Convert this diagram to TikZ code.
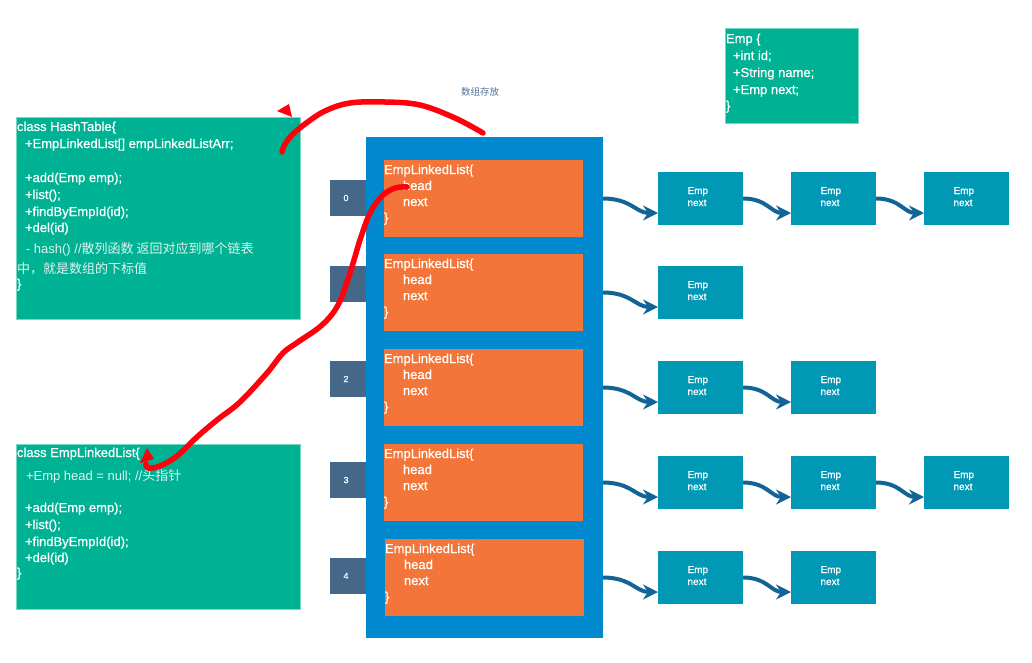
\documentclass[tikz,border=0pt]{standalone}
\usepackage{fontspec}
\setmainfont{Liberation Sans}
\newfontfamily\codefont{Liberation Sans}[FakeBold=0.6]
\newfontfamily\cjk{Noto Sans CJK SC}
\usetikzlibrary{arrows.meta}

\definecolor{clsgreen}{RGB}{0,178,148}
\definecolor{clsedge}{RGB}{120,215,195}
\definecolor{arrblue}{RGB}{0,137,207}
\definecolor{listorange}{RGB}{244,117,57}
\definecolor{idxslate}{RGB}{69,104,137}
\definecolor{empteal}{RGB}{0,152,181}
\definecolor{linkblue}{RGB}{18,100,150}
\definecolor{penred}{RGB}{255,0,12}
\definecolor{notegray}{RGB}{80,118,155}
\definecolor{softwhite}{RGB}{222,244,238}

\begin{document}
\begin{tikzpicture}[x=1pt,y=-1pt,
  every node/.style={inner sep=0pt,outer sep=0pt},
  sized/.style 2 args={rectangle,anchor=north west,minimum width=#1pt,minimum height=#2pt},
  classbox/.style={fill=clsgreen,draw=clsedge,line width=0.6pt},
  code/.style={anchor=base west,text=white,font=\codefont\fontsize{13}{16}\selectfont},
  comment/.style={anchor=base west,text=softwhite,font=\rmfamily\fontsize{13}{16}\selectfont},
  idxbox/.style={fill=idxslate},
  idxlabel/.style={text=white,font=\codefont\fontsize{9}{10}\selectfont},
  listbox/.style={fill=listorange},
  empbox/.style={fill=empteal},
  emptext/.style={anchor=base west,text=white,font=\codefont\fontsize{10}{12}\selectfont},
  link/.style={draw=linkblue,line width=4pt,
    -{Stealth[length=15pt,width=15pt,inset=5pt]}},
  pen/.style={draw=penred,line width=5.5pt,line cap=round,line join=round},
]
\useasboundingbox (0,0) rectangle (1032,662);

% ---- class HashTable
\node[classbox,sized={284}{202}] (hashtable) at (16,117) {};
\node[code] (ht1) at (17,131) {class HashTable\{};
\node[code] (ht2) at (25,148) {+EmpLinkedList[] empLinkedListArr;};
\node[code] (ht3) at (25,182) {+add(Emp emp);};
\node[code] (ht4) at (25,199) {+list();};
\node[code] (ht5) at (25,216) {+findByEmpId(id);};
\node[code] (ht6) at (25,232) {+del(id)};
\node[comment] (ht7) at (26,253) {- hash() //{\cjk 散列函数 返回对应到哪个链表}};
\node[comment] (ht8) at (17,273) {{\cjk 中，就是数组的下标值}};
\node[code] (ht9) at (17,288) {\}};

% ---- class EmpLinkedList
\node[classbox,sized={284}{165}] (listclass) at (16,444) {};
\node[code] (lc1) at (17,457) {class EmpLinkedList\{};
\node[comment] (lc2) at (26,480) {+Emp head = null; //{\cjk 头指针}};
\node[code] (lc3) at (25,512) {+add(Emp emp);};
\node[code] (lc4) at (25,529) {+list();};
\node[code] (lc5) at (25,546) {+findByEmpId(id);};
\node[code] (lc6) at (25,562) {+del(id)};
\node[code] (lc7) at (17,577) {\}};

% ---- class Emp
\node[classbox,sized={133}{95}] (empclass) at (725,28) {};
\node[code] (ec1) at (726,43) {Emp \{};
\node[code] (ec2) at (733,60) {+int id;};
\node[code] (ec3) at (733,77) {+String name;};
\node[code] (ec4) at (733,94) {+Emp next;};
\node[code] (ec5) at (726,110) {\}};

% ---- caption above the array
\node[font=\cjk\fontsize{9.5}{10}\selectfont,text=notegray] (arraynote) at (480,92) {数组存放};

% ---- index tabs
\foreach \i/\y in {0/180,1/266,2/361,3/462,4/558}{
  \node[idxbox,sized={37}{36}] (idx\i) at (330,\y) {};
  \node[idxlabel] (idxl\i) at (346,\y+18) {\i};
}

% ---- the array
\node[fill=arrblue,sized={237}{501}] (array) at (366,137) {};

% ---- one EmpLinkedList per slot
\foreach \i/\y/\x in {0/160/384,1/254/384,2/349/384,3/444/384,4/539/385}{
  \node[listbox,sized={199}{77}] (slot\i) at (\x,\y) {};
  \node[code] (slot\i-a) at (\x,\y+14) {EmpLinkedList\{};
  \node[code] (slot\i-b) at (\x+19,\y+30) {head};
  \node[code] (slot\i-c) at (\x+19,\y+46) {next};
  \node[code] (slot\i-d) at (\x,\y+62) {\}};
}

% ---- Emp chains hanging off each slot
\foreach \r/\y/\n in {0/172/3,1/266/1,2/361/2,3/456/3,4/551/2}{
  \foreach \c/\x in {1/658,2/791,3/924}{
    \ifnum\c>\n\relax\else
      \node[empbox,sized={85}{53}] (e\r-\c) at (\x,\y) {};
      \node[emptext] (e\r-\c-a) at (\x+29.5,\y+22) {Emp};
      \node[emptext] (e\r-\c-b) at (\x+29.5,\y+34) {next};
    \fi
  }
  \draw[link] (array.east |- e\r-1.west) .. controls +(28,0) and +(-22,0) .. ([yshift=-14.5pt]e\r-1.west);
  \foreach \c in {2,3}{
    \ifnum\c>\n\relax\else
      \pgfmathtruncatemacro\prev{\c-1}
      \draw[link] (e\r-\prev.east) .. controls +(24,0) and +(-20,0) .. ([yshift=-14.5pt]e\r-\c.west);
    \fi
  }
}

% ---- hand-drawn red pointers
\coordinate (penA) at (483,133);
\coordinate (penB) at (407,187);
\draw[pen] plot[smooth,tension=0.6] coordinates {(penA) (455,118) (420,105) (385,102) (350,103) (325,111) (305,124) (291,136) (284,146) (282,152)};
\fill[penred] (277,111) -- (289,104) -- (292,117) -- cycle;
\draw[pen] plot[smooth,tension=0.6] coordinates {(penB) (395,188) (382,196) (370,213) (360,240) (350,273) (338,305) (322,325) (298,342) (283,353) (267,373) (240,402) (217,420) (197,437) (177,456) (160,466) (148,468) (146,464)};
\fill[penred] (140,463) -- (147,448) -- (154,459) -- cycle;
\end{tikzpicture}
\end{document}
